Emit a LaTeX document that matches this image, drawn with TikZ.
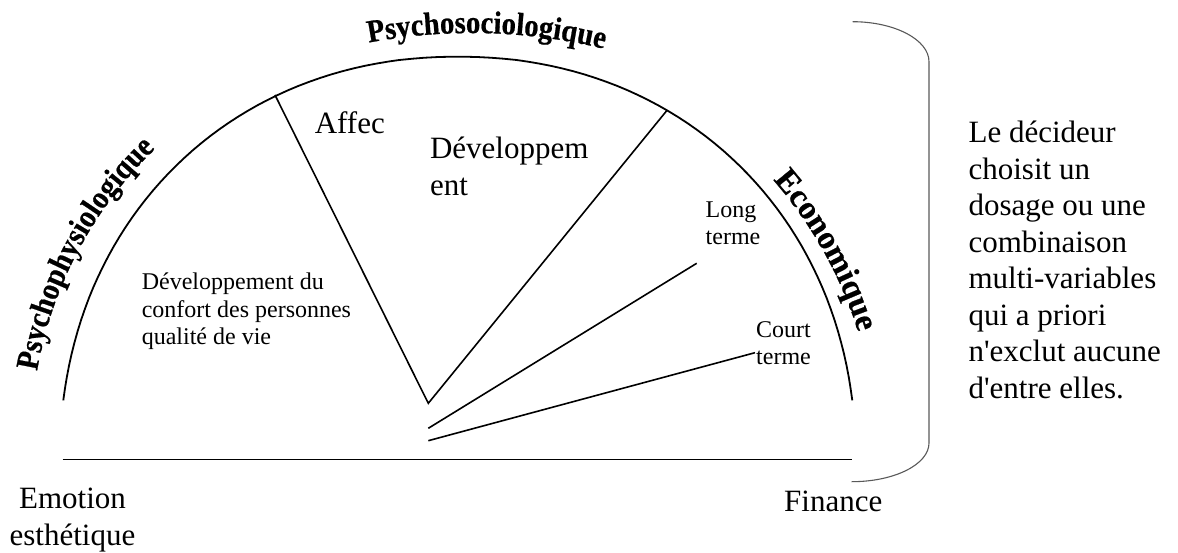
\documentclass[tikz,border=0pt]{standalone}
\usepackage{fontspec}
\setmainfont{Liberation Serif}
\newfontfamily\arcfont[FakeStretch=0.9,FakeBold=0.6]{Liberation Serif}
\newfontfamily\arcfontw[FakeBold=0.6]{Liberation Serif}
\usetikzlibrary{decorations.text}
\begin{document}
\begin{tikzpicture}[x=1pt,y=1pt,
  axisline/.style={line width=1.8pt},
  rayline/.style={line width=1.6pt},
  bigtxt/.style={font=\fontsize{31}{36.5}\selectfont, inner sep=0pt, align=left},
  smalltxt/.style={font=\fontsize{24}{27.5}\selectfont, inner sep=0pt, align=left},
  bracket/.style={line width=1.1pt, draw=black!65},
  arctext/.style={decorate, decoration={text along path, text align=center}},
]
\useasboundingbox (0,0) rectangle (1178,552);
\coordinate (C) at (457.8,92);
% main arc
\draw[axisline] plot[domain=172.45:7.55, samples=100, variable=\t]
  ({457.8+397.8*sign(cos(\t))*abs(cos(\t))^0.952}, {92+403.3*abs(sin(\t))^0.952});
% base line
\coordinate (bl) at (62.7,92.5);
\coordinate (br) at (851.7,92.5);
\draw[axisline] (bl) -- (br);
% rays
\coordinate (apex) at (428.3,148.7);
\coordinate (affectop) at (275,457);
\coordinate (devtop) at (666.7,441.3);
\coordinate (longstart) at (428.3,123.7);
\coordinate (longend) at (696.7,288.7);
\coordinate (courtstart) at (428.3,111.3);
\coordinate (courtend) at (755,199.3);
\draw[rayline] (affectop) -- (apex) -- (devtop);
\draw[rayline] (longstart) -- (longend);
\draw[rayline] (courtstart) -- (courtend);
% bracket
\coordinate (bt) at (852.5,530.3);
\coordinate (bb) at (851.7,70.3);
\draw[bracket] (bt) .. controls (894.6,530.3) and (929,512.3) .. (929,490.3)
  -- (929,109) .. controls (929,87.7) and (894.6,70.3) .. (bb);
% curved labels
\coordinate (Ctop) at (472,-41);
\coordinate (Cleft) at (434.2,112.3);
\path[arctext, decoration={text={|\arcfont\bfseries\fontsize{32}{32}\selectfont|Psychosociologique}}]
  (Ctop) ++(120:560) arc[start angle=120, end angle=57, radius=560];
\path[arctext, decoration={text={|\arcfont\bfseries\fontsize{32}{32}\selectfont|Psychophysiologique}}]
  (Cleft) ++(190:403) arc[start angle=190, end angle=114, radius=403];
\path[arctext, decoration={text={|\arcfontw\bfseries\fontsize{33}{33}\selectfont|Economique}}]
  (C) ++(62:420 and 424) arc[start angle=62, end angle=-3, x radius=420, y radius=424];
% texts (anchor base = baseline of last line)
\node[bigtxt, anchor=base west] (affec) at (314.6,418.7) {Affec};
\node[bigtxt, anchor=base west] (dev) at (429.8,356.7) {Développem\\ent};
\node[smalltxt, anchor=base west] (confort) at (141.6,207) {Développement du\\confort des personnes\\qualité de vie};
\node[smalltxt, anchor=base west] (long) at (705.5,307) {Long\\terme};
\node[smalltxt, anchor=base west] (court) at (756,187) {Court\\terme};
\node[bigtxt, align=center, anchor=base] (emotion) at (72.5,7) {Emotion\\esthétique};
\node[bigtxt, anchor=base west] (finance) at (784,40.3) {Finance};
\node[bigtxt, anchor=base west] (decideur) at (968.4,153.8) {Le décideur\\choisit un\\dosage ou une\\combinaison\\multi-variables\\qui a priori\\n\textquotesingle exclut aucune\\d\textquotesingle entre elles.};
\end{tikzpicture}
\end{document}
